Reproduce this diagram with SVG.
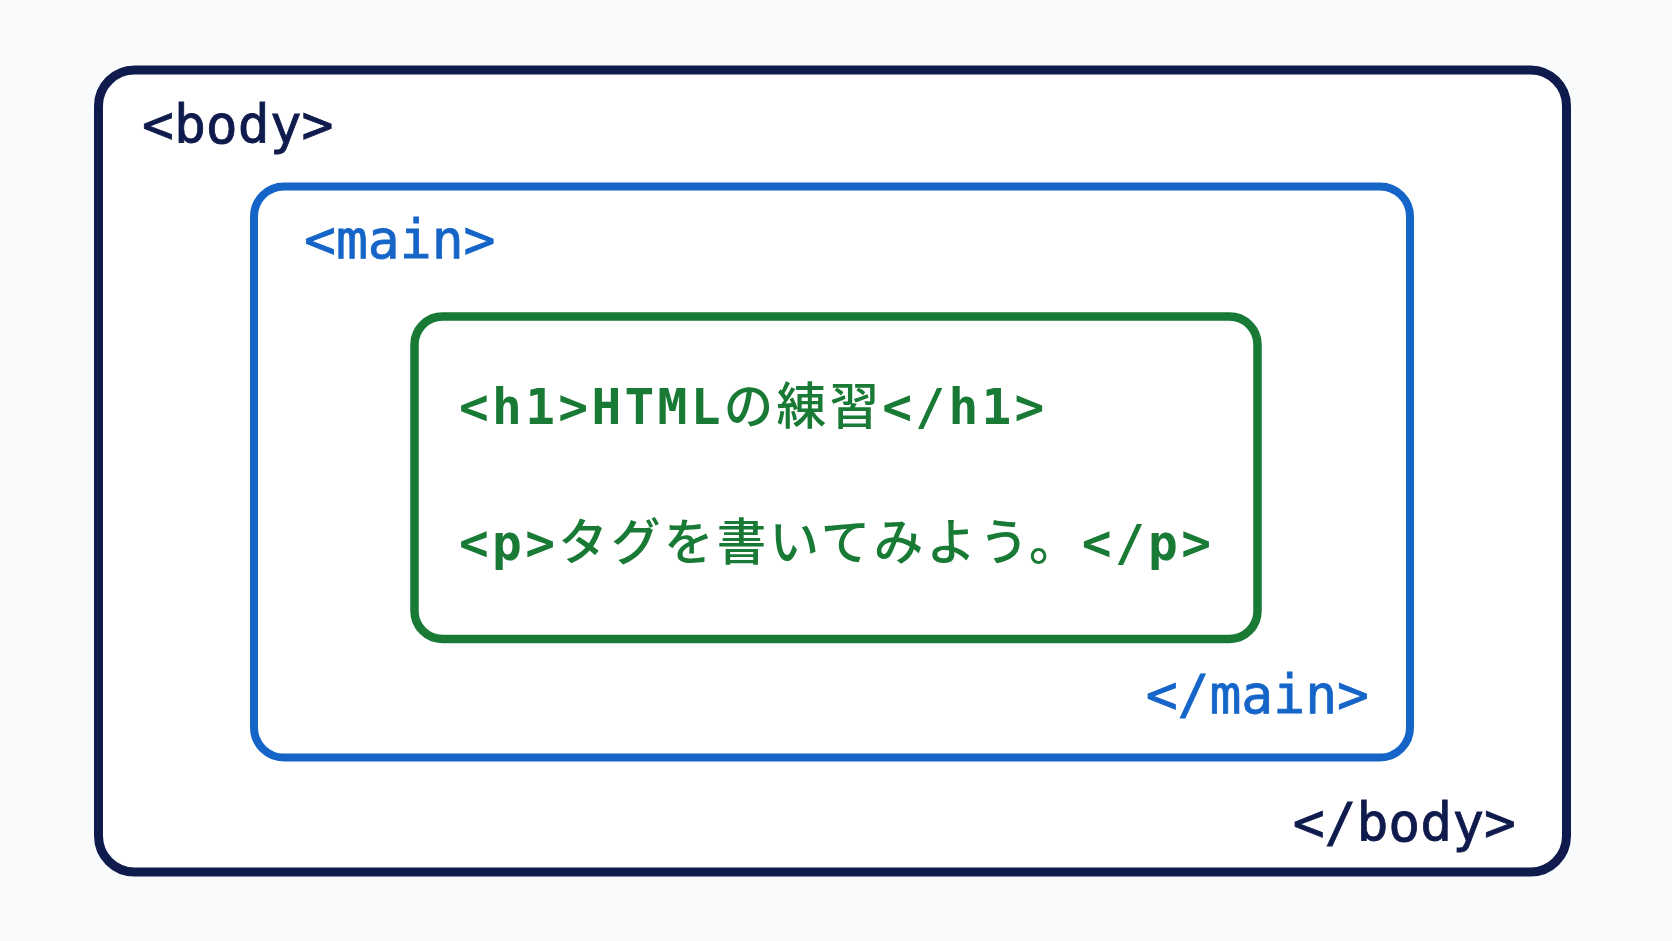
<svg xmlns="http://www.w3.org/2000/svg" width="1672" height="941" viewBox="0 0 1672 941">
  <style>
    .box { fill: #ffffff; }
    .t { font-family: "DejaVu Sans Mono", "Noto Sans CJK JP", monospace; font-size: 53px; stroke-width: 0.8px; }
    .body-c { fill: #0f1b4d; stroke: #0f1b4d; }
    .main-c { fill: #1565c8; stroke: #1565c8; }
    .g { font-family: "DejaVu Sans Mono", "Noto Sans CJK JP", monospace; font-size: 49.5px; letter-spacing: 3.3px; fill: #187a35; font-weight: bold; }
    .cjk { font-weight: 500; }
  </style>
  <rect x="0" y="0" width="1672" height="941" fill="#f9fafb"/>
  <g id="body">
    <rect class="box" x="98.5" y="70" width="1468" height="802" rx="36" ry="36" stroke="#0f1b4d" stroke-width="9"/>
    <text class="t body-c" x="142" y="142.5">&lt;body&gt;</text>
    <text class="t body-c" x="1516" y="840.5" text-anchor="end">&lt;/body&gt;</text>
  </g>
  <g id="main">
    <rect class="box" x="254" y="186.5" width="1156" height="571" rx="30" ry="30" stroke="#1565c8" stroke-width="8"/>
    <text class="t main-c" x="304" y="257.5">&lt;main&gt;</text>
    <text class="t main-c" x="1369" y="712.5" text-anchor="end">&lt;/main&gt;</text>
  </g>
  <g id="content">
    <rect class="box" x="414.5" y="316.5" width="843" height="322.5" rx="28" ry="28" stroke="#187a35" stroke-width="8.5"/>
    <text class="g" x="459" y="424">&lt;h1&gt;HTML<tspan class="cjk">の練習</tspan>&lt;/h1&gt;</text>
    <text class="g" x="459" y="560">&lt;p&gt;<tspan class="cjk">タグを書いてみよう。</tspan>&lt;/p&gt;</text>
  </g>
  <g id="connectors"/>
</svg>
